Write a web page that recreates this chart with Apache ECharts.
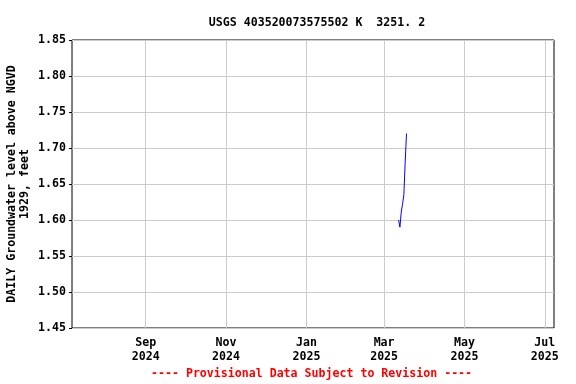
<!DOCTYPE html>
<html>
<head>
<meta charset="utf-8">
<script src="https://cdn.jsdelivr.net/npm/echarts@6/dist/echarts.min.js"></script>
<style>
  html, body { margin: 0; padding: 0; background: #fff; }
  #chart { width: 576px; height: 384px; }
</style>
</head>
<body>
<div id="chart"></div>
<script>
// daily groundwater level, feet above NGVD 1929
const dates = ['2025-03-12', '2025-03-13', '2025-03-14', '2025-03-15', '2025-03-16', '2025-03-17', '2025-03-18']
const levels = [1.600, 1.590, 1.611, 1.622, 1.635, 1.680, 1.720]

const monthTicks = ['2024-09-01', '2024-11-01', '2025-01-01', '2025-03-01', '2025-05-01', '2025-07-01']
const monthNames = ['Jan', 'Feb', 'Mar', 'Apr', 'May', 'Jun', 'Jul', 'Aug', 'Sep', 'Oct', 'Nov', 'Dec']

const toTime = (s) => new Date(s + 'T00:00:00').getTime()
const tickValues = monthTicks.map(toTime)

const font = '"DejaVu Sans Mono", monospace'
const fs = 11.6

const chart = echarts.init(document.getElementById('chart'))
chart.setOption({
  animation: false,
  title: {
    text: 'USGS 403520073575502 K  3251. 2',
    left: 312,
    textAlign: 'center',
    top: 12,
    textStyle: { fontFamily: font, fontSize: fs, fontWeight: 'bold', color: '#000' }
  },
  graphic: [{
    type: 'text',
    left: 151,
    top: 368,
    style: {
      text: '---- Provisional Data Subject to Revision ----',
      font: 'bold ' + fs + 'px ' + font,
      fill: '#ff0000'
    }
  }],
  grid: {
    left: 72, right: 22, top: 40, bottom: 56,
    outerBoundsMode: 'none',
    show: true, borderColor: '#000', borderWidth: 1
  },
  xAxis: {
    type: 'value',
    min: toTime('2024-07-07'),
    max: toTime('2025-07-08'),
    axisLine: { show: false },
    axisTick: { show: false, customValues: tickValues },
    splitLine: { show: true, lineStyle: { color: '#cccccc', width: 1 } },
    axisLabel: {
      customValues: tickValues,
      fontFamily: font, fontSize: fs, fontWeight: 'bold', color: '#000',
      lineHeight: 14, margin: 8,
      formatter: (v) => {
        const d = new Date(v)
        return monthNames[d.getMonth()] + '\n' + d.getFullYear()
      }
    }
  },
  yAxis: {
    type: 'value',
    min: 1.45,
    max: 1.85,
    interval: 0.05,
    name: 'DAILY Groundwater level above NGVD\n1929, feet',
    nameLocation: 'middle',
    nameGap: 41,
    nameMoveOverlap: false,
    nameTextStyle: { fontFamily: font, fontSize: fs, fontWeight: 'bold', color: '#000', lineHeight: 13 },
    axisLine: { show: false },
    axisTick: { show: true, length: 3, lineStyle: { color: '#000' } },
    splitLine: { show: true, lineStyle: { color: '#cccccc', width: 1 } },
    axisLabel: {
      fontFamily: font, fontSize: fs, fontWeight: 'bold', color: '#000', margin: 6,
      formatter: (v) => v.toFixed(2)
    }
  },
  series: [{
    type: 'line',
    data: dates.map((d, i) => [toTime(d), levels[i]]),
    showSymbol: false,
    lineStyle: { color: '#0000ff', width: 1 }
  }]
})
</script>
</body>
</html>
